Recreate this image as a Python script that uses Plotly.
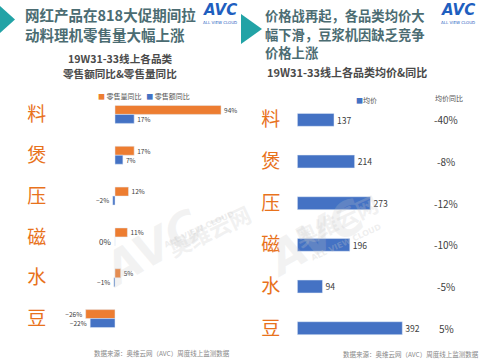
import plotly.graph_objects as go

# ---------------- data ----------------
categories = ["料", "煲", "压", "磁", "水", "豆"]
volume_name = "零售量同比"
value_name = "零售额同比"
volume_yoy = [94, 17, 12, 11, 5, -26]   # 零售量同比 (%)
value_yoy = [17, 7, -2, 0, -1, -22]     # 零售额同比 (%)

price_name = "均价"
avg_price = [137, 214, 273, 196, 94, 392]
price_yoy_name = "均价同比"
price_yoy = ["-40%", "-8%", "-12%", "-10%", "-5%", "5%"]

left_title_lines = ["网红产品在818大促期间拉", "动料理机零售量大幅上涨"]
right_title_lines = ["价格战再起，各品类均价大", "幅下滑，豆浆机因缺乏竞争", "价格上涨"]
left_sub_lines = ["19W31-33线上各品类", "零售额同比&零售量同比"]
right_sub_lines = ["19W31-33线上各品类均价&同比"]
source = "数据来源：奥维云网（AVC）周度线上监测数据"

# ---------------- style ----------------
W, H = 485, 364
ORANGE = "#ED7D31"
BLUE = "#4472C4"
TEAL = "#22A3A6"
TITLE_C = "#4B6C72"
CAT_C = "#E8721C"
LBL_C = "#404040"
FONT = "Noto Sans CJK SC"


def px(x):
    return x / W


def py(y):
    return 1 - y / H


fig = go.Figure()

# zero-valued labels are drawn to the left of the axis like the original
value_pos = ["none" if v == 0 else "outside" for v in value_yoy]

fig.add_trace(go.Bar(
    y=categories, x=volume_yoy, name=volume_name, orientation="h",
    marker_color=ORANGE, texttemplate="%{x}%", textposition="outside",
    textfont=dict(size=8, color=LBL_C, family=FONT), cliponaxis=False,
    xaxis="x", yaxis="y", showlegend=False))
fig.add_trace(go.Bar(
    y=categories, x=value_yoy, name=value_name, orientation="h",
    marker_color=BLUE, texttemplate="%{x}%", textposition=value_pos,
    textfont=dict(size=8, color=LBL_C, family=FONT), cliponaxis=False,
    xaxis="x", yaxis="y", showlegend=False))
fig.add_trace(go.Bar(
    y=categories, x=avg_price, name=price_name, orientation="h",
    marker_color=BLUE, texttemplate="%{x}", textposition="outside",
    textfont=dict(size=10, color=LBL_C, family=FONT), cliponaxis=False,
    width=0.31, xaxis="x2", yaxis="y2", showlegend=False))

cat_font = dict(size=19, color=CAT_C, family=FONT)
fig.update_layout(
    width=W, height=H, margin=dict(l=0, r=0, t=0, b=0),
    paper_bgcolor="white", plot_bgcolor="rgba(0,0,0,0)",
    barmode="group", bargap=0.56, bargroupgap=0,
    font=dict(family=FONT, color=LBL_C),
    xaxis=dict(domain=[px(47.3), px(239.1)], range=[-60, 110], visible=False),
    yaxis=dict(domain=[py(339), py(94)], range=[5.5, -0.5], type="category",
               showgrid=False, zeroline=False, showline=False, ticks="",
               tickfont=cat_font, ticklabelstandoff=0, anchor="x"),
    xaxis2=dict(domain=[px(297.3), px(447.3)], range=[0, 560], visible=False,
                anchor="y2"),
    yaxis2=dict(domain=[py(349), py(99)], range=[5.5, -0.5], type="category",
                showgrid=False, zeroline=False, showline=False, ticks="",
                tickfont=cat_font, ticklabelstandoff=16, anchor="x2"),
)

ann = []
# zero labels placed left of the axis
for c, v in zip(categories, value_yoy):
    if v == 0:
        ann.append(dict(text=f"{v}%", x=0, y=c, xref="x", yref="y", xanchor="right",
                        yanchor="middle", xshift=-2, yshift=-4.5, showarrow=False,
                        font=dict(size=8, color=LBL_C, family=FONT)))


def line_ann(text, x, y, size, color, anchor="left", bold=True):
    return dict(text=f"<b>{text}</b>" if bold else text, x=px(x), y=py(y),
                xref="paper", yref="paper", xanchor=anchor, yanchor="middle",
                showarrow=False, borderpad=0,
                font=dict(size=size, color=color, family=FONT))


# titles
for t, yy in zip(left_title_lines, (15, 34)):
    ann.append(line_ann(t, 24, yy, 14.5, TITLE_C))
for t, yy in zip(right_title_lines, (15.5, 34, 52.5)):
    ann.append(line_ann(t, 264, yy, 13.3, TITLE_C))
# subtitles
for t, yy in zip(left_sub_lines, (58.5, 74)):
    ann.append(line_ann(t, 120, yy, 10.6, "#4a4a4a", anchor="center"))
for t, yy in zip(right_sub_lines, (72,)):
    ann.append(line_ann(t, 347, yy, 11, "#4a4a4a", anchor="center"))
# legends
ann.append(dict(text=f'<span style="color:{ORANGE}">■</span> {volume_name}   '
                     f'<span style="color:{BLUE}">■</span> {value_name}',
                x=px(96), y=py(96), xref="paper", yref="paper", xanchor="left",
                yanchor="middle", showarrow=False, font=dict(size=7, color="#555", family=FONT)))
ann.append(dict(text=f'<span style="color:{BLUE}">■</span>{price_name}',
                x=px(354), y=py(100), xref="paper", yref="paper", xanchor="left",
                yanchor="middle", showarrow=False, font=dict(size=7, color="#555", family=FONT)))
ann.append(line_ann(price_yoy_name, 449, 98, 7, "#555", anchor="center", bold=False))
# yoy column
for c, v in zip(categories, price_yoy):
    ann.append(dict(text=v, x=px(446), y=c, xref="paper", yref="y2", xanchor="center",
                    yanchor="middle", showarrow=False,
                    font=dict(size=10, color=LBL_C, family=FONT)))
# source notes
ann.append(dict(text=source, x=px(232), y=py(353), xref="paper", yref="paper",
                xanchor="right", yanchor="middle", showarrow=False,
                font=dict(size=6.5, color="#888", family=FONT)))
ann.append(dict(text=source, x=px(481), y=py(354), xref="paper", yref="paper",
                xanchor="right", yanchor="middle", showarrow=False,
                font=dict(size=6.5, color="#888", family=FONT)))
# logos
for lx in (220, 458):
    ann.append(dict(text="<b><i>AVC</i></b>", x=px(lx), y=py(10), xref="paper", yref="paper",
                    xanchor="center", yanchor="middle", showarrow=False,
                    font=dict(size=15, color="#1F5FBF", family="DejaVu Sans")))
    ann.append(dict(text="ALL VIEW CLOUD", x=px(lx), y=py(22.5), xref="paper", yref="paper",
                    xanchor="center", yanchor="middle", showarrow=False,
                    font=dict(size=4, color="#1F5FBF", family="DejaVu Sans")))
# watermarks
for wx, wy in ((110, 280), (335, 270)):
    ann.append(dict(text="<b><i>AVC</i></b>", x=px(wx - 20), y=py(wy + 20), xref="paper",
                    yref="paper", textangle=-30, showarrow=False,
                    font=dict(size=46, color="rgba(200,200,200,0.22)", family="DejaVu Sans")))
    ann.append(dict(text="<b>奥维云网</b>", x=px(wx + 50), y=py(wy - 50), xref="paper",
                    yref="paper", textangle=-25, showarrow=False,
                    font=dict(size=22, color="rgba(200,200,200,0.25)", family=FONT)))
    ann.append(dict(text="<b>ALL VIEW CLOUD</b>", x=px(wx + 50), y=py(wy - 28), xref="paper",
                    yref="paper", textangle=-25, showarrow=False,
                    font=dict(size=8, color="rgba(200,200,200,0.3)", family="DejaVu Sans")))
fig.update_layout(annotations=ann)

# decorative triangles
shapes = []
for (x0, y0, x1, y1, xt, yt) in ((0, 6, 0, 33, 15, 19.5), (241, 14, 241, 44, 262, 29)):
    shapes.append(dict(type="path", xref="paper", yref="paper",
                       path=f"M {px(x0)} {py(y0)} L {px(xt)} {py(yt)} L {px(x1)} {py(y1)} Z",
                       fillcolor=TEAL, line=dict(width=0)))
fig.update_layout(shapes=shapes)

fig.write_html("out.html", config={"displayModeBar": False},
               post_script="document.body.style.margin='0';")
